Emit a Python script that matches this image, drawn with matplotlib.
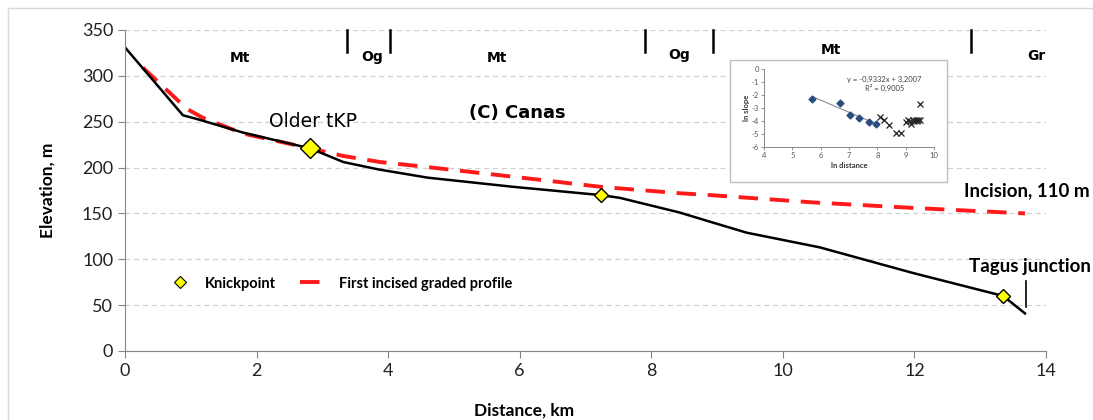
import numpy as np
import matplotlib.pyplot as plt
from matplotlib.patches import Rectangle
from matplotlib.lines import Line2D

# 纵剖面 (Canas)
dist_km = [0, 0.88, 1.09, 1.8, 2.81, 3.32, 3.85, 4.6, 5.9, 7.23, 7.52,
           8.43, 8.89, 9.45, 10.56, 11.98, 13.35, 13.68]
elev_m = [331, 257, 253, 238, 221, 206, 198, 189, 179, 170, 167,
          151, 141, 129, 113, 85, 60, 41]

# 第一期下切均衡剖面
graded_km = [0.27, 0.94, 1.19, 1.8, 2.81, 3.32, 3.88, 4.59, 5.9, 7.23,
             8.43, 8.89, 10.46, 11.98, 13.68]
graded_m = [309, 264, 254, 237, 221, 212.6, 206, 200.6, 190, 179,
            172, 170, 162, 156, 150]

# 裂点
kp_km = [2.81, 7.23, 13.35]
kp_m = [221, 170, 60]
kp_size = [10, 7, 7]

# 岩性分段
unit_names = ["Mt", "Og", "Mt", "Og", "Mt", "Gr"]
unit_x = [1.75, 3.75, 5.65, 8.42, 10.73, 13.86]
unit_y = [320, 321, 320, 323, 328, 322]
unit_bounds = [3.37, 4.03, 7.9, 8.94, 12.86]

# 小图: ln 距离 vs ln 坡度
ln_dist_fit = [5.7, 6.7, 7.05, 7.35, 7.7, 7.95]
ln_slope_fit = [-2.3, -2.6, -3.55, -3.75, -4.1, -4.2]
ln_dist_x = [8.1, 8.25, 8.4, 8.65, 8.85, 9.0, 9.1, 9.15, 9.2, 9.25,
             9.3, 9.35, 9.4, 9.45, 9.5, 9.5]
ln_slope_x = [-3.7, -3.95, -4.3, -4.9, -4.9, -4.1, -3.95, -4.0, -4.2,
              -3.95, -4.0, -3.9, -4.0, -3.95, -3.9, -2.7]
fit_slope = -0.9332
fit_icpt = 3.2007
fit_r2 = 0.9005

plt.rcParams['font.family'] = ['Lato', 'DejaVu Sans']

fig = plt.figure(figsize=(10.93, 4.2), dpi=100)
fig.patches.append(Rectangle((8 / 1093, -0.1), 1.2, 1.1 - 8 / 420,
                             transform=fig.transFigure, fill=False,
                             edgecolor='#d9d9d9', lw=1))

ax = fig.add_axes([0.1144, 0.1643, 0.8426, 0.7643])
ax.set_xlim(0, 14)
ax.set_ylim(0, 350)
ax.set_xticks(range(0, 15, 2))
ax.set_yticks(range(0, 351, 50))
ax.grid(axis='y', ls=(0, (4, 3)), color='#d0d0d0', lw=0.9)
ax.set_axisbelow(True)
for s in ['top', 'right']:
    ax.spines[s].set_visible(False)
for s in ['left', 'bottom']:
    ax.spines[s].set_color('#868686')
ax.tick_params(direction='out', length=5, color='#868686', labelsize=13,
               labelcolor='#222222')

ax.plot(graded_km, graded_m, color='#ff1a1a', lw=2.8, dashes=(5, 3))
ax.plot(dist_km, elev_m, color='black', lw=1.8)
for x, y, s in zip(kp_km, kp_m, kp_size):
    ax.plot(x, y, marker='D', ms=s, mfc='#ffff00', mec='black', mew=1.0,
            zorder=5)

for name, x, y in zip(unit_names, unit_x, unit_y):
    ax.text(x, y, name, ha='center', va='center', fontsize=10,
            fontweight='bold', family='DejaVu Sans', zorder=10)
for b in unit_bounds:
    ax.plot([b, b], [326, 350], color='black', lw=1.8, clip_on=False)

ax.text(2.86, 250, "Older tKP", ha='center', va='center', fontsize=13.5,
        family='DejaVu Sans')
ax.text(5.96, 260, "(C) Canas", ha='center', va='center', fontsize=13,
        fontweight='bold', family='DejaVu Sans')
ax.text(14.66, 175, "Incision, 110 m", ha='right', va='center',
        fontsize=13.5, fontweight='bold')
ax.text(13.75, 92, "Tagus junction", ha='center', va='center',
        fontsize=13.5, fontweight='bold')
ax.plot([13.69, 13.69], [48, 76], color='black', lw=1.2)

ax.set_xlabel("Distance, km", fontsize=12.5, fontweight='bold')
ax.set_ylabel("Elevation, m", fontsize=12.5, fontweight='bold')
ax.xaxis.set_label_coords(0.433, -0.16)
ax.yaxis.set_label_coords(-0.076, 0.5)

handles = [
    Line2D([], [], ls='none', marker='D', ms=6, mfc='#ffff00', mec='black',
           mew=0.8),
    Line2D([], [], color='#ff1a1a', lw=2.8, dashes=(5, 3)),
]
ax.legend(handles, ["Knickpoint", "First incised graded profile"], ncol=2,
          frameon=False, loc='center left', bbox_to_anchor=(0.03, 0.21),
          prop={'size': 10.5, 'weight': 'bold'}, handlelength=1.9,
          handletextpad=0.8, columnspacing=1.6)

# 小图
fig.patches.append(Rectangle((0.668, 0.567), 0.198, 0.29,
                             transform=fig.transFigure, facecolor='white',
                             edgecolor='#bfbfbf', lw=1, zorder=3))
ins = fig.add_axes([0.699, 0.65, 0.1555, 0.186], zorder=4)
ins.set_facecolor('none')
ins.set_xlim(4, 10)
ins.set_ylim(-6, 0)
ins.set_xticks(range(4, 11))
ins.set_yticks(range(-6, 1))
ins.set_yticklabels([str(v) for v in range(-6, 1)])
for s in ['top', 'right']:
    ins.spines[s].set_visible(False)
for s in ['left', 'bottom']:
    ins.spines[s].set_color('#868686')
    ins.spines[s].set_linewidth(0.7)
ins.tick_params(direction='out', length=2, width=0.6, color='#868686',
                labelsize=5.5, labelcolor='#555555', pad=1.5)
ins.set_xlabel("ln distance", fontsize=5.5, fontweight='bold', labelpad=2,
               color='#333333')
ins.set_ylabel("ln slope", fontsize=5.5, fontweight='bold', labelpad=1,
               color='#333333')

fx = np.array([ln_dist_fit[0], ln_dist_fit[-1]])
ins.plot(fx, fit_slope * fx + fit_icpt, color='#8c8c8c', lw=0.8)
ins.plot(ln_dist_fit, ln_slope_fit, ls='none', marker='D', ms=3.5,
         color='#2a4d7f')
ins.plot(ln_dist_x, ln_slope_x, ls='none', marker='x', ms=4.5, mew=0.9,
         color='#222222')
ins.text(8.25, -0.78, f"y = {fit_slope:.4f}x + {fit_icpt:.4f}".replace('.', ','),
         ha='center', va='center', fontsize=5.5, color='#444444')
ins.text(8.25, -1.45, f"R² = {fit_r2:.4f}".replace('.', ','), ha='center',
         va='center', fontsize=5.5, color='#444444')

fig.savefig("out.png", dpi=100)
